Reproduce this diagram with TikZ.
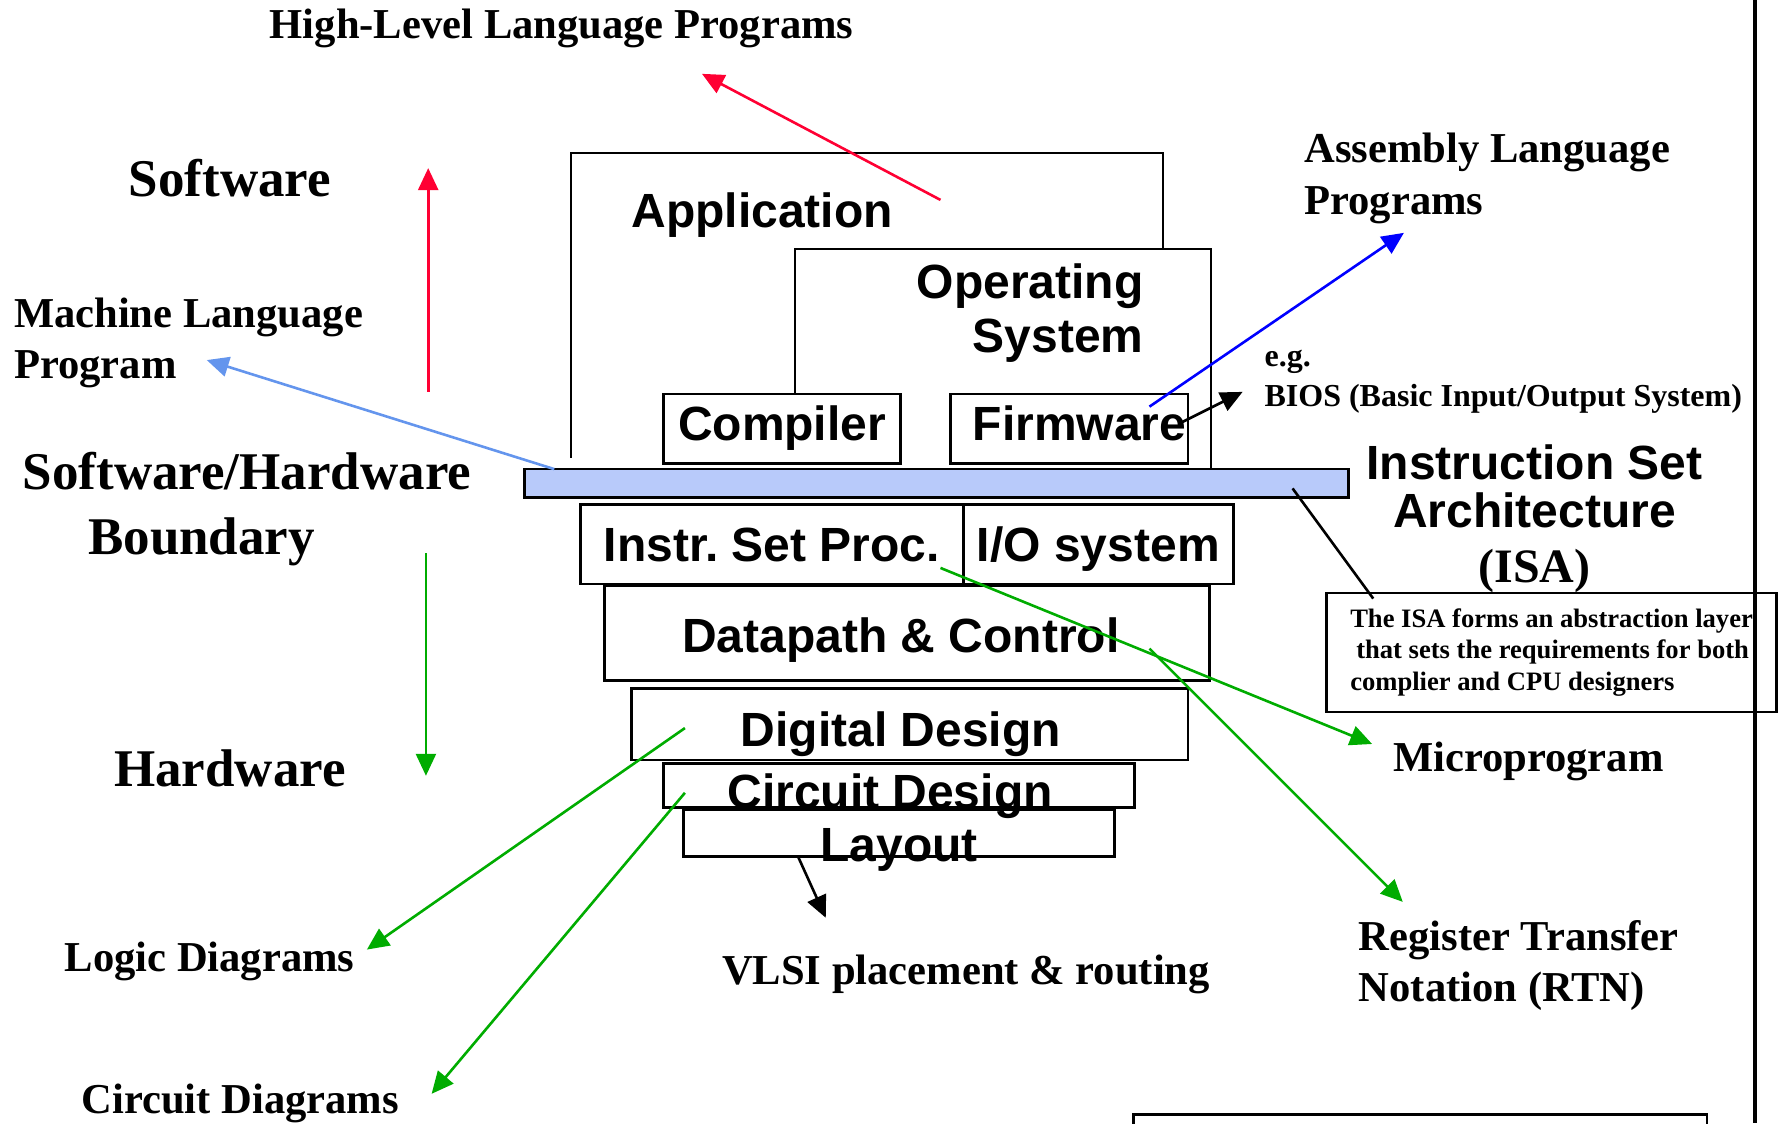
\documentclass[tikz,border=0pt]{standalone}
\usepackage{fontspec}
\setmainfont{Liberation Serif}
\newfontfamily\arialfont{Liberation Sans}
\usepackage{tikz}
\usetikzlibrary{arrows.meta}

\definecolor{hotred}{RGB}{255,0,51}
\definecolor{leafgreen}{RGB}{0,172,0}
\definecolor{skyblue}{RGB}{100,149,237}
\definecolor{pureblue}{RGB}{0,0,255}
\definecolor{isafill}{RGB}{184,202,250}

\newlength\upx
\setlength\upx{0.568pt}

\begin{document}
\begin{tikzpicture}[x=0.568pt, y=-0.568pt]
  \tikzstyle{layer}=[draw, line width=1.3pt, inner sep=0pt,
    font=\arialfont\bfseries\fontsize{24}{28}\selectfont,
    text height=17pt, text depth=5pt]
  \tikzstyle{sanstag}=[inner sep=0pt, font=\arialfont\bfseries\fontsize{24}{26.7}\selectfont]
  \tikzstyle{bigtag}=[inner sep=0pt, font=\bfseries\fontsize{26.5}{32}\selectfont]
  \tikzstyle{tag}=[inner sep=0pt, align=left, font=\bfseries\fontsize{21.3}{25.6}\selectfont]
  \tikzstyle{smalltag}=[inner sep=0pt, align=left, font=\bfseries\fontsize{16}{20}\selectfont]
  \tikzstyle{link}=[line width=1.3pt, -{Triangle[length=11pt, width=10pt]}]
  \useasboundingbox (0,0) rectangle (1568,989);

  % layers of the stack
  \draw[line width=1.1pt] (503,403) -- (503,135) -- (1024,135) -- (1024,218);
  \draw[line width=1.1pt] (700,347) -- (700,219) -- (1066,219) -- (1066,412);
  \node[sanstag, anchor=base] (app) at (671,200) {Application};
  \node[sanstag, anchor=base east, align=right] (os) at (1007,310) {Operating\\System};
  \node[layer, minimum width=209\upx, minimum height=61\upx] (compiler) at (688.5,377.5) {Compiler};
  \node[layer, minimum width=209\upx, minimum height=61\upx] (firmware) at (941.5,377.5) {\hspace*{10pt}Firmware};
  \node[draw, line width=1.3pt, fill=isafill, inner sep=0pt,
    minimum width=725\upx, minimum height=25\upx] (bar) at (824.5,425.5) {};
  \node[layer, minimum width=337\upx, minimum height=70\upx] (isp) at (679.5,479) {\raisebox{-2.5pt}{Instr.\ Set Proc.}};
  \node[layer, minimum width=238\upx, minimum height=70\upx] (io) at (967,479) {\raisebox{-2.5pt}{I/O system}};
  \node[layer, minimum width=533\upx, minimum height=83\upx] (dpc) at (798.5,557.5) {\raisebox{-3.4pt}{Datapath \& Control}\hspace*{6pt}};
  \node[layer, minimum width=490\upx, minimum height=63\upx] (dig) at (801,637.5) {\raisebox{-5pt}{Digital Design}\hspace*{9pt}};
  \node[layer, minimum width=415\upx, minimum height=39\upx] (cir) at (791.5,691.5) {\raisebox{-5.7pt}{Circuit Design}\hspace*{9pt}};
  \node[layer, minimum width=379\upx, minimum height=41\upx] (lay) at (791.5,733.5) {\raisebox{-8pt}{Layout}};

  % labels
  \node[tag, anchor=base] (hll) at (494.5,34) {High-Level Language Programs};
  \node[bigtag, anchor=base] (sw) at (202.5,173) {Software};
  \node[tag, anchor=base west] (mlp) at (12,333) {Machine Language\\Program};
  \node[bigtag, anchor=base] (swhw) at (217.5,431) {Software/Hardware};
  \node[bigtag, anchor=base] (bnd) at (177.5,488) {Boundary};
  \node[bigtag, anchor=base] (hw) at (202.5,692) {Hardware};
  \node[tag, anchor=base] (logic) at (184.5,855) {Logic Diagrams};
  \node[tag, anchor=base] (circd) at (211.5,980) {Circuit Diagrams};
  \node[tag, anchor=base] (vlsi) at (850.5,867) {VLSI placement \& routing};
  \node[tag, anchor=base] (micro) at (1345.5,679.5) {Microprogram};
  \node[tag, anchor=base west] (rtn) at (1196,881.5) {Register Transfer\\Notation (RTN)};
  \node[tag, anchor=base west] (asm) at (1148,188.5) {Assembly Language\\Programs};
  \node[smalltag, anchor=base west] (bios) at (1113,358) {e.g.\\BIOS (Basic Input/Output System)};
  \node[anchor=base, align=center, inner sep=0pt,
    font=\arialfont\bfseries\fontsize{24}{24.4}\selectfont] (isa) at (1351,513)
    {Instruction Set\\Architecture\\[3pt]{\rmfamily\bfseries (ISA)}};
  \node[draw, line width=1.2pt, align=left, inner sep=0pt,
    minimum width=396\upx, minimum height=105\upx,
    font=\bfseries\fontsize{13.3}{15.9}\selectfont] (note) at (1366,574.5)
    {The ISA forms an abstraction layer\\\hspace*{3pt}that sets the requirements for both\\complier and CPU designers};

  % end points of the connectors
  \coordinate (app-src) at (828,176);
  \coordinate (hll-end) at (618,65);
  \coordinate (sw-low) at (377,345);
  \coordinate (sw-top) at (377,148);
  \coordinate (hw-top) at (375,487);
  \coordinate (hw-low) at (375,683);
  \coordinate (bar-src) at (488,413);
  \coordinate (mlp-end) at (182,317);
  \coordinate (fw-src) at (1012,358);
  \coordinate (asm-end) at (1236,205);
  \coordinate (fw-out) at (1040,372);
  \coordinate (bios-end) at (1094,345);
  \coordinate (bar-pin) at (1138,430);
  \coordinate (note-pin) at (1209,527);
  \coordinate (lay-src) at (703,755);
  \coordinate (vlsi-end) at (727,808);
  \coordinate (dig-src) at (603,641);
  \coordinate (logic-end) at (323,836);
  \coordinate (cir-src) at (603,698);
  \coordinate (circd-end) at (380,963);
  \coordinate (isp-src) at (828,500);
  \coordinate (micro-end) at (1208,655);
  \coordinate (dpc-src) at (1012,571);
  \coordinate (rtn-end) at (1235,794);

  \draw[link, hotred] (app-src) -- (hll-end);
  \draw[link, hotred] (sw-low) -- (sw-top);
  \draw[link, leafgreen] (hw-top) -- (hw-low);
  \draw[link, skyblue] (bar-src) -- (mlp-end);
  \draw[link, pureblue] (fw-src) -- (asm-end);
  \draw[link] (fw-out) -- (bios-end);
  \draw[line width=1.3pt] (bar-pin) -- (note-pin);
  \draw[link] (lay-src) -- (vlsi-end);
  \draw[link, leafgreen] (dig-src) -- (logic-end);
  \draw[link, leafgreen] (cir-src) -- (circd-end);
  \draw[link, leafgreen] (isp-src) -- (micro-end);
  \draw[link, leafgreen] (dpc-src) -- (rtn-end);

  % frame of the slide
  \draw[line width=2pt] (1545,0) -- (1545,989);
  \draw[line width=1.3pt] (998,1000) -- (998,981) -- (1503,981) -- (1503,1000);
\end{tikzpicture}
\end{document}
